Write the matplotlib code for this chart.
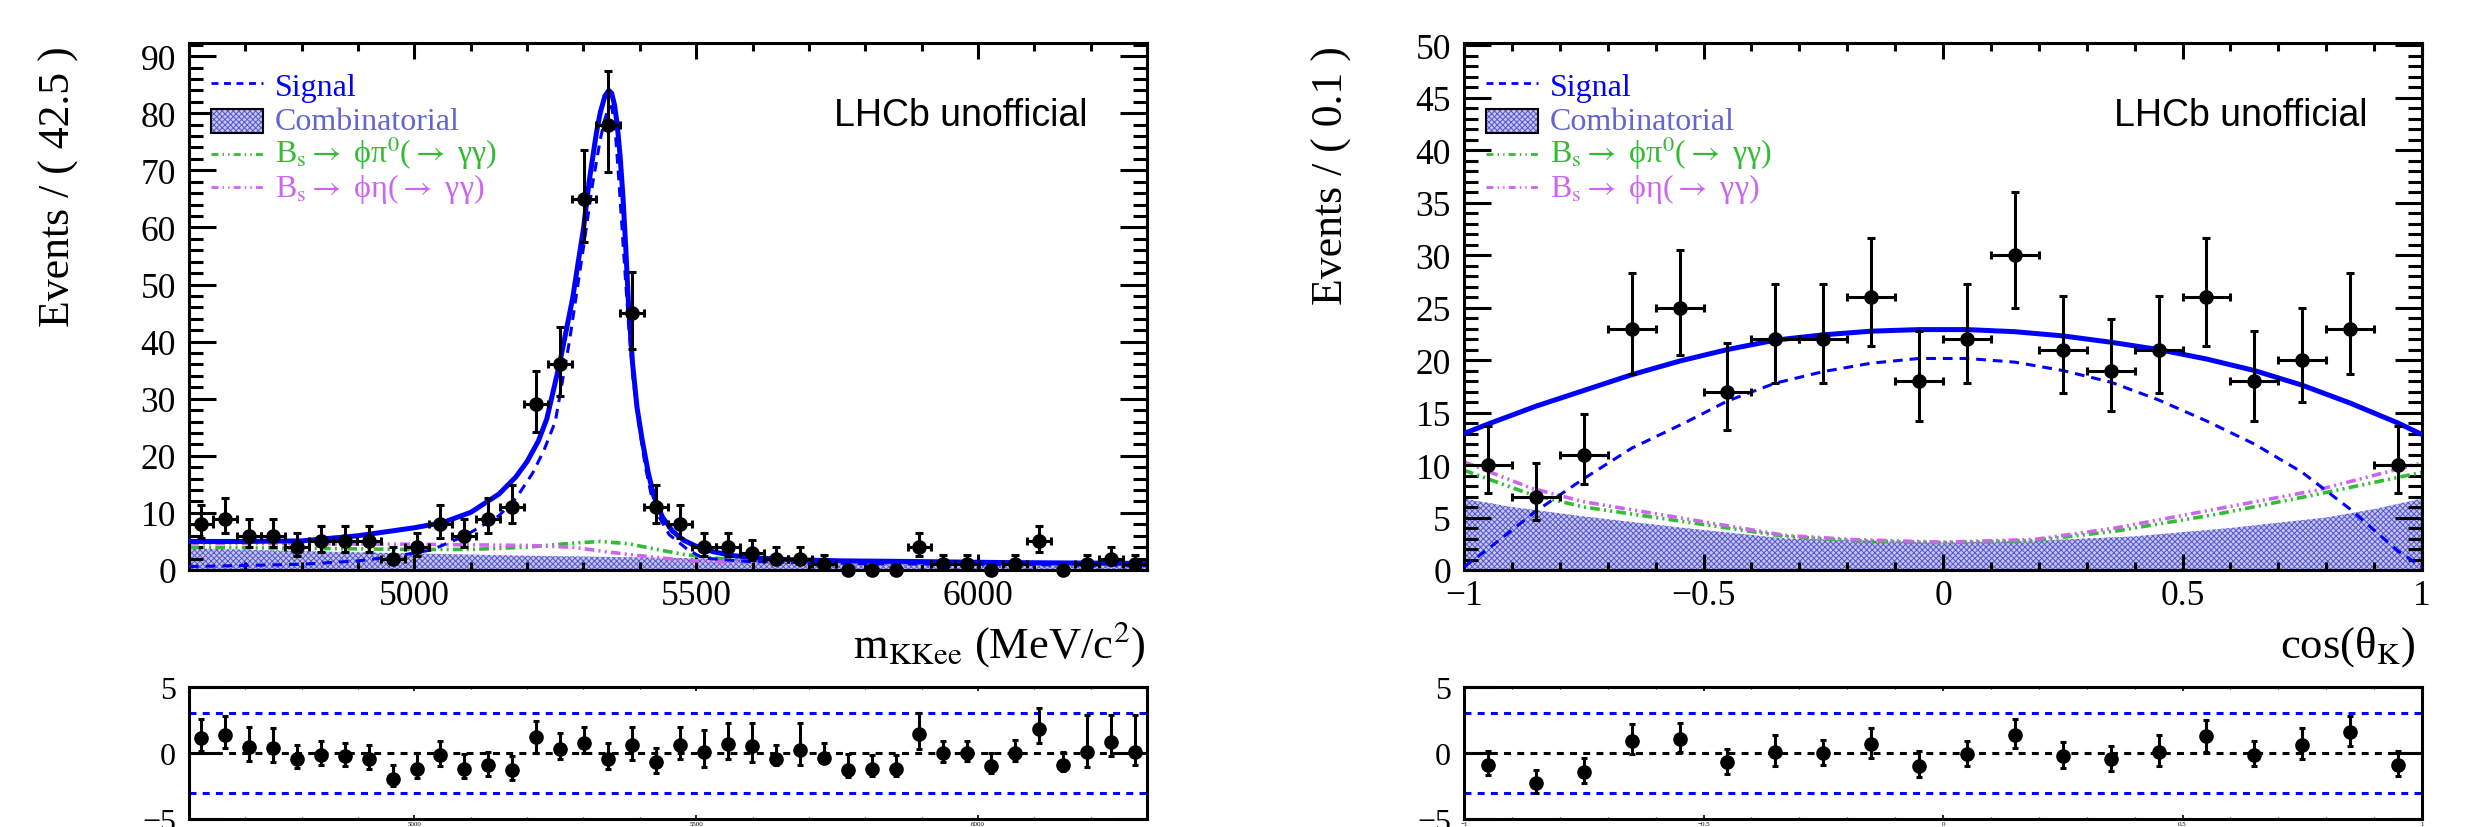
import numpy as np
import matplotlib
matplotlib.use('Agg')
from matplotlib import pyplot as plt
from matplotlib.ticker import MultipleLocator, FuncFormatter
from matplotlib.patches import Rectangle

plt.rcParams['font.family'] = ['Liberation Serif', 'DejaVu Serif']
plt.rcParams['mathtext.fontset'] = 'stix'
plt.rcParams['lines.scale_dashes'] = False
plt.rcParams['hatch.linewidth'] = 0.7
plt.rcParams['axes.linewidth'] = 2.2

W, H = 2474, 828

# ---------------- m(KKee) fit ----------------
m_range = (4600., 6300.)
m_nbins = 40
m_counts = [8, 9, 6, 6, 4, 5, 5, 5, 2, 4, 8, 6, 9, 11, 29, 36, 65, 78, 45, 11,
            8, 4, 4, 3, 2, 2, 1, 0, 0, 0, 4, 1, 1, 0, 1, 5, 0, 1, 2, 1]
m_pull = [1.11, 1.36, 0.46, 0.40, -0.43, -0.17, -0.22, -0.47, -1.99, -1.23,
          -0.17, -1.23, -0.93, -1.30, 1.24, 0.31, 0.78, -0.43, 0.60, -0.66,
          0.58, 0.08, 0.70, 0.53, -0.43, 0.20, -0.35, -1.31, -1.24, -1.24,
          1.46, -0.03, 0.03, -0.98, 0.00, 1.84, -0.90, 0.10, 0.83, 0.08]
m_pull_hi = [2.55, 2.80, 1.97, 1.92, 0.61, 0.91, 0.74, 0.58, -0.93, 0.00,
             0.91, -0.05, 0.08, -0.23, 2.43, 1.50, 1.97, 0.78, 1.97, 0.40,
             1.97, 1.72, 2.25, 2.25, 0.60, 2.25, 0.73, -0.10, -0.15, -0.15,
             3.05, 0.91, 0.91, -0.03, 0.98, 3.38, 0.10, 2.85, 2.85, 2.85]
m_pull_lo = [0.15, 0.36, -0.60, -0.65, -1.10, -0.93, -1.00, -1.18, -2.50, -1.86,
             -0.96, -1.90, -1.74, -2.04, 0.00, -0.47, 0.02, -1.24, -0.56, -1.49,
             -0.48, -1.06, -0.48, -0.66, -0.90, -0.90, -0.73, -1.82, -1.74, -1.74,
             0.28, -0.66, -0.60, -1.49, -0.60, 0.73, -1.36, -1.06, -0.23, -0.90]

m_tot_x = [4600, 4700, 4800, 4900, 5000, 5050, 5100, 5150, 5180, 5200, 5220, 5235,
           5258, 5281, 5290, 5300, 5310, 5323, 5330, 5338, 5345, 5350, 5355, 5360,
           5365, 5370, 5375, 5380, 5387, 5395, 5404, 5415, 5425, 5440, 5458, 5478,
           5499, 5530, 5567, 5610, 5668, 5760, 5872, 6050, 6300]
m_tot_y = [5.0, 5.0, 5.1, 6.0, 7.4, 8.3, 10.1, 13.3, 16.3, 19.0, 22.6, 26.5,
           36.3, 47.7, 53.5, 59.8, 68.0, 76.6, 80.2, 83.0, 84.0, 83.5, 81.5, 77.9,
           72.5, 65.5, 56.5, 46.4, 36.3, 28.5, 22.9, 17.0, 12.9, 9.3, 6.8, 5.2,
           4.2, 3.2, 2.5, 2.1, 1.8, 1.6, 1.5, 1.3, 1.15]
m_sig_x = [4600, 4800, 4900, 4960, 5030, 5090, 5150, 5180, 5210, 5230, 5250, 5275,
           5300, 5316, 5330, 5338, 5345, 5350, 5356, 5363, 5370, 5380, 5388, 5397,
           5410, 5425, 5452, 5486, 5512, 5590, 5800, 6300]
m_sig_y = [0.6, 1.0, 1.6, 2.3, 3.5, 6.0, 9.5, 12.5, 17.0, 21.0, 26.0, 40.0,
           56.5, 67.5, 75.5, 79.0, 81.0, 81.2, 77.5, 68.0, 57.5, 43.0, 33.5, 26.3,
           18.0, 10.9, 6.2, 3.5, 2.1, 1.5, 1.1, 0.8]
m_comb_x = [4600, 4800, 5000, 5200, 5400, 5600, 5800, 6000, 6300]
m_comb_y = [3.8, 3.3, 2.9, 2.5, 2.2, 1.9, 1.65, 1.45, 1.25]
m_pi0_x = [4600, 4800, 5000, 5100, 5200, 5280, 5330, 5380, 5430, 5480, 5530, 5600,
           5700, 6000, 6300]
m_pi0_y = [4.0, 3.8, 3.6, 3.6, 4.0, 4.7, 5.0, 4.6, 3.6, 2.7, 2.1, 1.6, 1.4, 1.2, 1.1]
m_eta_x = [4600, 4800, 5000, 5200, 5280, 5340, 5400, 5480, 5550, 5700, 6000, 6300]
m_eta_y = [4.7, 4.6, 4.5, 4.3, 4.0, 3.2, 2.5, 1.7, 1.4, 1.3, 1.2, 1.1]

# ---------------- cos(theta_K) fit ----------------
c_range = (-1., 1.)
c_nbins = 20
c_counts = [10, 7, 11, 23, 25, 17, 22, 22, 26, 18, 22, 30, 21, 19, 21, 26, 18, 20, 23, 10]
c_pull = [-0.89, -2.30, -1.43, 0.89, 1.07, -0.71, 0.05, -0.03, 0.69, -0.97,
          -0.08, 1.38, -0.20, -0.46, 0.05, 1.28, -0.13, 0.64, 1.58, -0.89]
c_pull_hi = [0.13, -1.30, -0.38, 2.17, 2.30, 0.30, 1.38, 1.00, 1.91, 0.13,
             0.89, 2.60, 0.82, 0.56, 1.33, 2.47, 0.89, 1.91, 2.80, 0.13]
c_pull_lo = [-1.68, -3.00, -2.24, -0.08, 0.05, -1.56, -0.97, -0.89, -0.41, -1.79,
             -0.97, 0.36, -1.10, -1.35, -0.97, 0.10, -1.02, -0.46, 0.51, -1.73]

c_tot_x = [-1, -0.95, -0.85, -0.75, -0.65, -0.55, -0.45, -0.35, -0.25, -0.15, -0.05,
           0.05, 0.15, 0.25, 0.35, 0.45, 0.55, 0.65, 0.75, 0.85, 0.95, 1]
c_tot_y = [13.0, 13.9, 15.6, 17.1, 18.6, 19.9, 21.0, 21.9, 22.4, 22.75, 22.9,
           22.9, 22.7, 22.3, 21.7, 21.0, 20.1, 19.0, 17.6, 15.9, 14.0, 12.9]
c_sig_x = [-1, -0.95, -0.85, -0.75, -0.65, -0.54, -0.45, -0.35, -0.25, -0.15, -0.05,
           0.05, 0.15, 0.25, 0.35, 0.45, 0.55, 0.65, 0.75, 0.85, 0.95, 1]
c_sig_y = [0.3, 2.0, 5.6, 8.7, 11.6, 14.0, 16.1, 17.8, 18.9, 19.7, 20.15,
           20.15, 19.8, 19.0, 17.9, 16.2, 14.2, 12.0, 9.3, 5.8, 1.8, 0.3]
c_comb_x = [-1, -0.9, -0.75, -0.54, -0.33, -0.15, 0, 0.2, 0.4, 0.6, 0.8, 0.9, 1]
c_comb_y = [6.8, 6.0, 5.1, 4.0, 3.0, 2.8, 2.6, 2.8, 3.2, 4.0, 5.0, 5.8, 6.8]
c_pi0_x = [-1, -0.86, -0.75, -0.54, -0.33, -0.19, 0, 0.19, 0.36, 0.57, 0.78, 1]
c_pi0_y = [9.5, 7.2, 6.0, 4.6, 3.2, 2.8, 2.6, 2.8, 3.7, 5.3, 7.2, 9.3]
c_eta_x = [-1, -0.86, -0.75, -0.54, -0.33, -0.19, 0, 0.19, 0.36, 0.57, 0.78, 1]
c_eta_y = [10.3, 7.8, 6.5, 4.9, 3.3, 2.9, 2.65, 2.9, 4.0, 5.8, 7.6, 10.2]

leg_labels = ['Signal', 'Combinatorial',
              r'B$_{\rm s}{\rightarrow}$ ϕπ$^{0}$(${\rightarrow}$ γγ)',
              r'B$_{\rm s}{\rightarrow}$ ϕη(${\rightarrow}$ γγ)']

BLUE = '#0000ff'
COMB_TXT = '#6464d2'
COMB_FACE = '#c4c4ee'
COMB_HATCH = '#5656cc'
GREEN = '#33bb33'
VIOLET = '#cc66ee'
DASH = (0, (7, 5))
DDOT = (0, (7, 3, 1.5, 3, 1.5, 3))


def rect(x0, y0, x1, y1):
    return [x0 / W, 1 - y1 / H, (x1 - x0) / W, (y1 - y0) / H]


def fmt(v, pos):
    return f'{v:g}'.replace('-', '\u2212')


fig = plt.figure(figsize=(W / 100, H / 100), dpi=100)


def legend(ax):
    tr = ax.transAxes
    ax_w, ax_h = 958., 527.

    def ax_y(py):
        return (571 - py) / ax_h
    lx0, lx1, tx = 22 / ax_w, 74 / ax_w, 86 / ax_w
    ax.plot([lx0, lx1], [ax_y(84)] * 2, transform=tr, color=BLUE, lw=2, ls=(0, (5, 4)))
    ax.add_patch(Rectangle((lx0, ax_y(134)), lx1 - lx0, 24 / ax_h, transform=tr,
                           facecolor=COMB_FACE, edgecolor=COMB_HATCH, hatch='xxxxxx',
                           lw=0, zorder=3))
    ax.add_patch(Rectangle((lx0, ax_y(134)), lx1 - lx0, 24 / ax_h, transform=tr,
                           fill=False, edgecolor='k', lw=1.5, zorder=4))
    ax.plot([lx0, lx1], [ax_y(155)] * 2, transform=tr, color=GREEN, lw=2, ls=(0, (5, 3, 1, 3, 1, 3)))
    ax.plot([lx0, lx1], [ax_y(188)] * 2, transform=tr, color=VIOLET, lw=2, ls=(0, (5, 3, 1, 3, 1, 3)))
    for lab, base, col in zip(leg_labels, [96, 130, 163, 197], [BLUE, COMB_TXT, GREEN, VIOLET]):
        ax.text(tx, ax_y(base), lab, transform=tr, color=col, fontsize=23,
                ha='left', va='baseline')


def main_panel(x0, lo, hi, nb, counts, comb, sig, pi0, eta, tot, ymax,
               xmaj, xmin, ymaj, ymin):
    ax = fig.add_axes(rect(x0, 44, x0 + 958, 571))
    w = (hi - lo) / nb
    xc = lo + w * (np.arange(nb) + 0.5)
    ax.fill_between(comb[0], 0, comb[1], facecolor=COMB_FACE, edgecolor=COMB_HATCH,
                    hatch='xxxxxx', lw=0, zorder=1)
    ax.plot(pi0[0], pi0[1], color=GREEN, lw=2.6, ls=DDOT, zorder=2)
    ax.plot(eta[0], eta[1], color=VIOLET, lw=2.6, ls=DDOT, zorder=2)
    ax.plot(sig[0], sig[1], color=BLUE, lw=2.2, ls=DASH, zorder=3)
    ax.plot(tot[0], tot[1], color=BLUE, lw=3.6, zorder=3, solid_joinstyle='round')
    n = np.array(counts, float)
    nz = n > 0
    e = np.sqrt(n + 0.25)
    ax.errorbar(xc[nz], n[nz], xerr=w / 2, yerr=[e[nz] - 0.5, e[nz] + 0.5], fmt='o',
                color='k', ms=9.5, elinewidth=2.2, capsize=3, capthick=2.2, zorder=5)
    ax.plot(xc[~nz], n[~nz], 'o', color='k', ms=9.5, clip_on=False, zorder=6)
    ax.set_xlim(lo, hi)
    ax.set_ylim(0, ymax)
    ax.xaxis.set_major_locator(MultipleLocator(xmaj))
    ax.xaxis.set_minor_locator(MultipleLocator(xmin))
    ax.yaxis.set_major_locator(MultipleLocator(ymaj))
    ax.yaxis.set_minor_locator(MultipleLocator(ymin))
    ax.xaxis.set_major_formatter(FuncFormatter(fmt))
    ax.tick_params(which='both', direction='in', top=True, right=True, width=2.2,
                   labelsize=25.5)
    ax.tick_params(axis='y', which='major', length=19.5, pad=9.4)
    ax.tick_params(axis='y', which='minor', length=10)
    ax.tick_params(axis='x', which='major', length=11.5, pad=6.5)
    ax.tick_params(axis='x', which='minor', length=5.5)
    legend(ax)
    return ax


def pull_panel(x0, lo, hi, nb, pull, p_lo, p_hi, xmaj, xmin):
    ax = fig.add_axes(rect(x0, 688, x0 + 958, 820))
    w = (hi - lo) / nb
    xc = lo + w * (np.arange(nb) + 0.5)
    p = np.array(pull)
    ax.axhline(0, color='k', lw=2.2, ls=(0, (5, 4.5)), zorder=1)
    ax.axhline(3, color=BLUE, lw=2.2, ls=(0, (5, 4.5)), zorder=1)
    ax.axhline(-3, color=BLUE, lw=2.2, ls=(0, (5, 4.5)), zorder=1)
    ax.errorbar(xc, p, yerr=[p - np.array(p_lo), np.array(p_hi) - p], fmt='o', color='k',
                ms=9.5, elinewidth=2.2, capsize=2.5, capthick=2.2, zorder=3)
    ax.set_xlim(lo, hi)
    ax.set_ylim(-5, 5)
    ax.set_yticks([-5, 0, 5])
    ax.yaxis.set_major_formatter(FuncFormatter(fmt))
    ax.xaxis.set_major_locator(MultipleLocator(xmaj))
    ax.xaxis.set_minor_locator(MultipleLocator(xmin))
    ax.xaxis.set_major_formatter(FuncFormatter(fmt))
    ax.tick_params(axis='y', direction='in', right=True, length=22, width=2.2,
                   labelsize=23, pad=9.4)
    ax.tick_params(axis='x', which='major', direction='in', top=True, length=3,
                   width=1.2, labelsize=5, pad=1.5)
    ax.tick_params(axis='x', which='minor', direction='in', top=True, length=1.5, width=0.8)
    return ax


main_panel(189, *m_range, m_nbins, m_counts, (m_comb_x, m_comb_y), (m_sig_x, m_sig_y),
           (m_pi0_x, m_pi0_y), (m_eta_x, m_eta_y), (m_tot_x, m_tot_y), 92.3,
           500, 100, 10, 2)
main_panel(1464, *c_range, c_nbins, c_counts, (c_comb_x, c_comb_y), (c_sig_x, c_sig_y),
           (c_pi0_x, c_pi0_y), (c_eta_x, c_eta_y), (c_tot_x, c_tot_y), 50.2,
           0.5, 0.1, 5, 1)
pull_panel(189, *m_range, m_nbins, m_pull, m_pull_lo, m_pull_hi, 500, 100)
pull_panel(1464, *c_range, c_nbins, c_pull, c_pull_lo, c_pull_hi, 0.5, 0.1)

# axis titles and labels
fig.text(59 / W, 1 - 46 / H, 'Events / ( 42.5 )', rotation=90, ha='center', va='top', fontsize=31.5)
fig.text(1332 / W, 1 - 46 / H, 'Events / ( 0.1 )', rotation=90, ha='center', va='top', fontsize=31.5)
fig.text(1146 / W, 1 - 658 / H, r'm$_{\rm KKee}$ (MeV/c$^{2}$)', ha='right', va='baseline', fontsize=32)
fig.text(2416 / W, 1 - 658 / H, r'cos(θ$_{\rm K}$)', ha='right', va='baseline', fontsize=32)
fig.text(1088 / W, 1 - 126 / H, 'LHCb unofficial', ha='right', va='baseline', fontsize=27,
         family='Liberation Sans')
fig.text(2367 / W, 1 - 126 / H, 'LHCb unofficial', ha='right', va='baseline', fontsize=27,
         family='Liberation Sans')

fig.savefig('out.png', dpi=100)
